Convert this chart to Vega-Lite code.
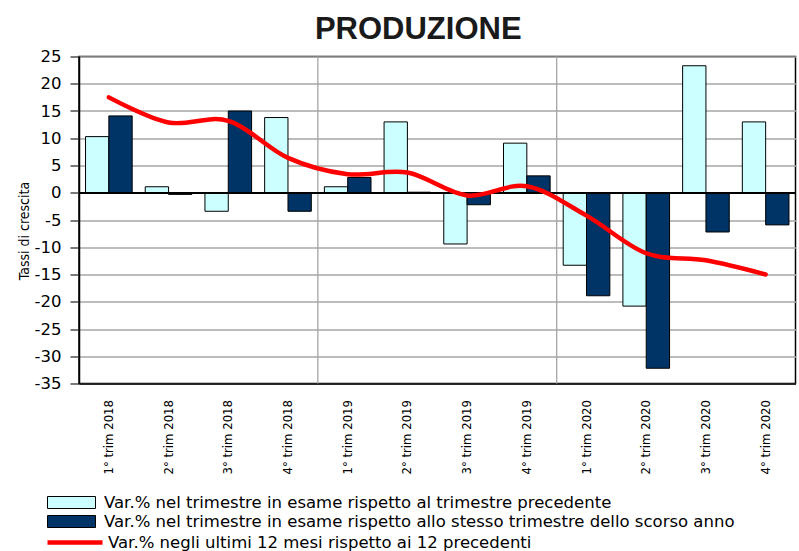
{
  "$schema": "https://vega.github.io/schema/vega-lite/v6.json",
  "width": 716.5,
  "height": 327,
  "autosize": {"type": "none"},
  "padding": {"left": 79, "top": 56.5, "right": 3.5, "bottom": 167.5},
  "background": "white",
  "config": {
    "view": {"stroke": "black", "strokeWidth": 1.5},
    "font": "Liberation Sans",
    "axisY": {"labelOverlap": false, "tickCount": 13}
  },
  "title": {
    "text": "PRODUZIONE",
    "font": "Liberation Sans",
    "fontSize": 31,
    "fontWeight": "bold",
    "color": "#1a1a1a",
    "anchor": "middle",
    "frame": "group",
    "dx": -19,
    "baseline": "alphabetic",
    "offset": -21
  },
  "data": {
    "values": [
      {"q": "1° trim 2018", "qq": 10.3, "yy": 14.1, "m12": 17.5},
      {"q": "2° trim 2018", "qq": 1.1, "yy": -0.3, "m12": 12.9},
      {"q": "3° trim 2018", "qq": -3.4, "yy": 15.0, "m12": 13.2},
      {"q": "4° trim 2018", "qq": 13.8, "yy": -3.4, "m12": 6.4},
      {"q": "1° trim 2019", "qq": 1.1, "yy": 2.8, "m12": 3.4},
      {"q": "2° trim 2019", "qq": 13.0, "yy": 0.1, "m12": 3.7},
      {"q": "3° trim 2019", "qq": -9.4, "yy": -2.2, "m12": -0.5},
      {"q": "4° trim 2019", "qq": 9.1, "yy": 3.1, "m12": 1.2},
      {"q": "1° trim 2020", "qq": -13.3, "yy": -18.9, "m12": -4.2},
      {"q": "2° trim 2020", "qq": -20.8, "yy": -32.2, "m12": -11.1},
      {"q": "3° trim 2020", "qq": 23.3, "yy": -7.2, "m12": -12.4},
      {"q": "4° trim 2020", "qq": 13.0, "yy": -5.9, "m12": -15.0}
    ]
  },
  "layer": [
    {
      "data": {"values": [{"q": "1° trim 2019"}, {"q": "1° trim 2020"}]},
      "mark": {"type": "rule", "color": "#a6a6a6", "strokeWidth": 1.3},
      "encoding": {
        "x": {
          "field": "q", "type": "nominal", "bandPosition": 0,
          "scale": {"domain": ["1° trim 2018","2° trim 2018","3° trim 2018","4° trim 2018","1° trim 2019","2° trim 2019","3° trim 2019","4° trim 2019","1° trim 2020","2° trim 2020","3° trim 2020","4° trim 2020"], "paddingInner": 0, "paddingOuter": 0}
        }
      }
    },
    {
      "transform": [{"fold": ["qq", "yy"], "as": ["serie", "val"]}],
      "mark": {"type": "bar", "stroke": "black", "strokeWidth": 1},
      "encoding": {
        "x": {
          "field": "q", "type": "nominal",
          "scale": {"domain": ["1° trim 2018","2° trim 2018","3° trim 2018","4° trim 2018","1° trim 2019","2° trim 2019","3° trim 2019","4° trim 2019","1° trim 2020","2° trim 2020","3° trim 2020","4° trim 2020"], "paddingInner": 0, "paddingOuter": 0},
          "axis": {
            "title": null,
            "labelAngle": -90,
            "labelFont": "DejaVu Sans Condensed, Liberation Sans Narrow, Liberation Sans",
            "labelFontSize": 13,
            "labelColor": "black",
            "labelPadding": 16,
            "ticks": false,
            "grid": false,
            "domainColor": "black",
            "domainWidth": 1.5
          }
        },
        "xOffset": {
          "field": "serie", "type": "nominal",
          "scale": {"domain": ["qq", "yy"], "paddingOuter": 0.28, "paddingInner": 0}
        },
        "y": {
          "field": "val", "type": "quantitative",
          "scale": {"domain": [-35, 25], "nice": false, "zero": false},
          "axis": {
            "values": [-35, -30, -25, -20, -15, -10, -5, 0, 5, 10, 15, 20, 25],
            "tickCount": 13,
            "labelExpr": "datum.value < 0 ? '-' + abs(datum.value) : '' + datum.value",
            "labelOverlap": false,
            "labelFont": "DejaVu Sans",
            "labelFontSize": 16.5,
            "labelColor": "black",
            "labelPadding": 9,
            "title": "Tassi di crescita",
            "titleFont": "DejaVu Sans Condensed, Liberation Sans Narrow, Liberation Sans",
            "titleFontSize": 14,
            "titleFontWeight": "normal",
            "titleColor": "black",
            "titleX": -55,
            "titleY": 174,
            "titleAngle": -90,
            "titleAlign": "center",
            "titleBaseline": "middle",
            "tickSize": 9,
            "tickColor": "#333333",
            "tickWidth": 1.3,
            "domainColor": "black",
            "domainWidth": 1.5,
            "grid": true,
            "gridColor": "#a6a6a6",
            "gridWidth": 1.3
          }
        },
        "fill": {
          "field": "serie", "type": "nominal",
          "scale": {"domain": ["qq", "yy"], "range": ["#ccffff", "#003366"]},
          "legend": {
            "orient": "none",
            "legendX": -18,
            "legendY": 435.5,
            "title": null,
            "padding": 0,
            "symbolType": "M-2.4,-0.6H2.4V0.6H-2.4Z",
            "symbolSize": 400,
            "symbolStrokeColor": "black",
            "symbolStrokeWidth": 1,
            "labelFont": "DejaVu Sans",
            "labelFontSize": 16.5,
            "labelColor": "black",
            "labelLimit": 0,
            "labelOffset": 22,
            "rowPadding": 0,
            "labelExpr": "datum.value == 'qq' ? 'Var.% nel trimestre in esame rispetto al trimestre precedente' : 'Var.% nel trimestre in esame rispetto allo stesso trimestre dello scorso anno'"
          }
        }
      }
    },
    {
      "mark": {"type": "rule", "color": "black", "strokeWidth": 1.3},
      "encoding": {"y": {"datum": 0}}
    },
    {
      "mark": {"type": "line", "strokeWidth": 4.5, "interpolate": "cardinal", "strokeCap": "round"},
      "encoding": {
        "x": {"field": "q", "type": "nominal"},
        "y": {"field": "m12", "type": "quantitative"},
        "stroke": {
          "datum": "m12",
          "scale": {"domain": ["m12"], "range": ["#ff0000"]},
          "legend": {
            "orient": "none",
            "legendX": -16.5,
            "legendY": 473.5,
            "title": null,
            "padding": 0,
            "symbolType": "M-2.75,0H2.75",
            "symbolSize": 400,
            "symbolStrokeWidth": 4.5,
            "labelFont": "DejaVu Sans",
            "labelFontSize": 16.5,
            "labelColor": "black",
            "labelLimit": 0,
            "labelOffset": 20.5,
            "labelExpr": "'Var.% negli ultimi 12 mesi rispetto ai 12 precedenti'"
          }
        }
      }
    }
  ]
}
